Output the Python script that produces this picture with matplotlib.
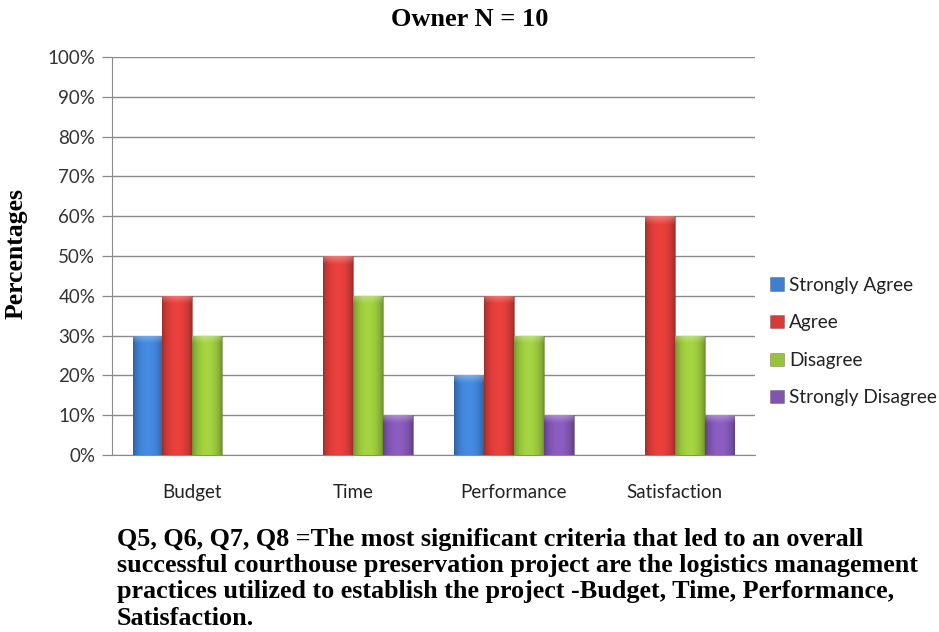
import numpy as np
import matplotlib
matplotlib.use("Agg")
import matplotlib.pyplot as plt
import matplotlib.colors as mcolors

categories = ["Budget", "Time", "Performance", "Satisfaction"]
series_names = ["Strongly Agree", "Agree", "Disagree", "Strongly Disagree"]
strongly_agree = [0.30, 0.00, 0.20, 0.00]
agree = [0.40, 0.50, 0.40, 0.60]
disagree = [0.30, 0.40, 0.30, 0.30]
strongly_disagree = [0.00, 0.10, 0.10, 0.10]
series_colors = ["#3f7fcf", "#d63b37", "#96c23c", "#7f55b0"]

caption = ("Q5, Q6, Q7, Q8 =The most significant criteria that led to an overall\n"
           "successful courthouse preservation project are the logistics management\n"
           "practices utilized to establish the project -Budget, Time, Performance,\n"
           "Satisfaction.")

label_font = "Lato"
serif_font = "Liberation Serif"


def shade_bar(ax, patch, color):
    # cylinder-like shading: light centre, darker edges, soft bevel on top
    x0, w, h = patch.get_x(), patch.get_width(), patch.get_height()
    if h <= 0:
        return
    base = np.array(mcolors.to_rgb(color))
    t = np.linspace(0, 1, 80)
    light = np.sin(np.pi * t) ** 0.6
    ny = 400
    img = np.repeat(np.clip(base * (0.72 + 0.38 * light)[:, None], 0, 1)[None],
                    ny, axis=0)
    yy = np.linspace(0, h, ny)
    cap = 0.02
    fade = np.clip((yy - (h - cap)) / cap, 0, 1)[:, None, None]
    img = np.clip(img * (1 - 0.3 * fade) + 0.3 * fade, 0, 1)
    im = ax.imshow(img, extent=(x0, x0 + w, 0, h), origin="lower",
                   aspect="auto", interpolation="bilinear", zorder=3)
    im.set_clip_path(patch)


fig = plt.figure(figsize=(9.39, 6.32), dpi=100)
ax = fig.add_axes([112 / 939, 1 - 455 / 632, 643 / 939, 398 / 632])

x = np.arange(len(categories))
width = 0.186
data = [strongly_agree, agree, disagree, strongly_disagree]
for i, (vals, name, col) in enumerate(zip(data, series_names, series_colors)):
    bars = ax.bar(x + (i - 1.5) * width, vals, width, color=col, label=name,
                  edgecolor=mcolors.to_rgba("#000000", 0.25), linewidth=0.6,
                  zorder=2)
    for b in bars:
        shade_bar(ax, b, col)

ax.set_xlim(-0.5, len(categories) - 0.5)
ax.set_ylim(0, 1.0)
ticks = np.arange(0, 1.01, 0.1)
ax.set_yticks(ticks)
ax.set_yticklabels([f"{int(round(v * 100))}%" for v in ticks],
                   fontfamily=label_font, fontsize=13.5, color="#333333")
ax.set_xticks(x)
ax.set_xticklabels(categories, fontfamily=label_font, fontsize=13.5,
                   color="#222222")
ax.tick_params(axis="y", length=7, width=0.9, color="#8a8a8a", pad=5)
ax.tick_params(axis="x", length=0, pad=21)
ax.grid(axis="y", color="#8a8a8a", linewidth=1.0, zorder=0)
ax.set_axisbelow(True)
for s in ["top", "right"]:
    ax.spines[s].set_visible(False)
ax.spines["left"].set_color("#8a8a8a")
ax.spines["bottom"].set_color("#8a8a8a")

fig.text(16 / 939, 1 - 254 / 632, "Percentages", rotation=90, ha="center",
         va="center", fontfamily=serif_font, fontweight="bold", fontsize=18.5)

fig.text(470 / 939, 1 - 20 / 632, "Owner N = 10", ha="center", va="center",
         fontfamily=serif_font, fontweight="bold", fontsize=19)

leg = ax.legend(loc="center left", bbox_to_anchor=(1.0, 0.285), frameon=False,
                handlelength=0.7, handleheight=0.7, handletextpad=0.3,
                labelspacing=1.08, borderaxespad=0.4,
                prop={"family": label_font, "size": 13.7})
for t in leg.get_texts():
    t.set_color("#222222")

fig.text(117 / 939, 1 - 528 / 632, caption, ha="left", va="top",
         fontfamily=serif_font, fontweight="bold", fontsize=18.8,
         linespacing=1.18)

fig.savefig("out.png", dpi=100)
